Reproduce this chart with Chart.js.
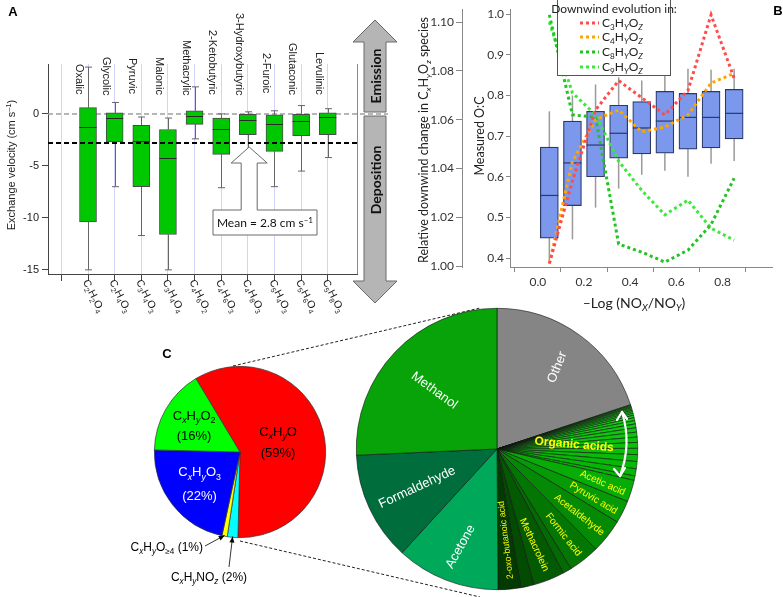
<!DOCTYPE html>
<html><head><meta charset="utf-8">
<script src="https://cdn.jsdelivr.net/npm/chart.js@4.4.1/dist/chart.umd.min.js"></script>
<style>
html,body{margin:0;padding:0;background:#fff;}
#wrap{position:relative;width:783px;height:597px;overflow:hidden;background:#fff;}
canvas{position:absolute;}
</style></head><body>
<div id="wrap">
<canvas id="cBig" style="left:220px;top:300px" width="563" height="297"></canvas>
<canvas id="cSmall" style="left:100px;top:332px" width="280" height="265"></canvas>
<canvas id="cA" style="left:0px;top:0px" width="400" height="320"></canvas>
<canvas id="cB" style="left:400px;top:0px" width="383" height="320"></canvas>
</div>
<script>
// ================= DATA =================
// Panel A : exchange velocity (cm s-1) of organic acids
const acidNames = ['Oxalic','Glycolic','Pyruvic','Malonic','Methacrylic','2-Ketobutyric','3-Hydroxybutyric','2-Furoic','Glutaconic','Levulinic'];
const acidFormulas = ['C2H2O4','C2H4O3','C3H4O3','C3H4O4','C4H6O2','C4H6O3','C4H8O3','C5H4O3','C5H6O4','C5H8O3'];
const vMin = [-15.0,-7.0,-11.7,-15.0,-2.4,-7.1,-4.0,-7.0,-5.5,-4.2];
const vQ1  = [-10.4,-2.7,-7.0,-11.6,-1.0,-3.9,-2.0,-3.6,-2.1,-2.0];
const vMed = [-1.3,-0.4,-2.6,-4.2,-0.2,-1.5,-0.6,-1.0,-0.7,-0.3];
const vQ3  = [0.6,0.1,-1.1,-1.5,0.3,-0.4,0.0,-0.1,0.0,0.1];
const vMax = [4.5,1.1,-0.3,-0.4,2.6,0.0,0.2,0.3,0.8,0.5];
const meanVelocity = -2.8;
const velocityTicks = [-15,-10,-5,0];

// Panel B : O:C boxes and relative downwind change
const noxBins = [0.05,0.15,0.25,0.35,0.45,0.55,0.65,0.75,0.85];
const ocMin = [0.395,0.446,0.524,0.571,0.605,0.615,0.600,0.632,0.639];
const ocQ1  = [0.449,0.529,0.600,0.646,0.656,0.658,0.668,0.671,0.693];
const ocMed = [0.554,0.634,0.678,0.707,0.720,0.737,0.746,0.746,0.756];
const ocQ3  = [0.673,0.737,0.761,0.776,0.785,0.810,0.805,0.810,0.815];
const ocMax = [0.761,0.800,0.827,0.845,0.837,0.854,0.866,0.863,0.866];
const relC3 = [1.001,1.035,1.064,1.076,1.069,1.062,1.072,1.103,1.077];
const relC4 = [1.001,1.043,1.060,1.064,1.055,1.057,1.062,1.075,1.079];
const relC8 = [1.103,1.062,1.061,1.009,1.0057,1.0016,1.0065,1.017,1.036];
const relC9 = [1.100,1.071,1.062,1.043,1.031,1.021,1.027,1.0155,1.0106];
const seriesNames = ['C_3H_YO_Z','C_4H_YO_Z','C_8H_YO_Z','C_9H_YO_Z'];
const noxTicks = [0,0.2,0.4,0.6,0.8];
const relTicks = [1.00,1.02,1.04,1.06,1.08,1.10];
const ocTicks = [0.4,0.5,0.6,0.7,0.8,0.9,1.0];

// Panel C : composition pies (percent)
const groupNames  = ['C_xH_yO','C_xH_yNO_z','C_xH_yO_{≥4}','C_xH_yO_3','C_xH_yO_2'];
const groupShares = [59,2,1,22,16];
const vocNames = ['Other','','','','','','','','','','','','','','','','','','','','','','',
  'Acetic acid','Pyruvic acid','Acetaldehyde','Formic acid','','Methacrolein','','2-oxo-butanoic acid','Acetone','Formaldehyde','Methanol'];
const vocShares = [19.9,0.08,0.08,0.11,0.11,0.14,0.14,0.17,0.19,0.22,0.28,0.33,0.39,0.44,0.5,0.56,0.61,0.67,0.72,0.78,0.83,0.83,0.5,
  2.5,2.6,3.9,3.6,1.0,3.6,1.5,2.6,11.9,12.5,25.7];

// ================= HELPERS =================
Chart.defaults.animation = false;
Chart.defaults.font.family = 'Liberation Sans';
function parseRich(s){
  const segs=[]; let i=0, buf='';
  while(i<s.length){
    const c=s[i];
    if(c==='_'||c==='^'){
      if(buf){segs.push({t:buf,mode:'n'});buf='';}
      const mode=c==='_'?'sub':'sup'; let t;
      if(s[i+1]==='{'){const j=s.indexOf('}',i+2); t=s.slice(i+2,j); i=j+1;}
      else {t=s[i+1]; i+=2;}
      segs.push({t,mode});
    } else {buf+=c;i++;}
  }
  if(buf) segs.push({t:buf,mode:'n'});
  return segs;
}
function drawRich(ctx,s,x,y,o){
  o=o||{}; const size=o.size||12, fam=o.family||'Liberation Sans', wt=o.weight||'normal';
  const segs=parseRich(s);
  const fontFor=sg=>{const sz=sg.mode==='n'?size:size*0.68; const it=(sg.mode!=='n'&&/^[A-Za-z]+$/.test(sg.t))?'italic ':''; return it+wt+' '+sz+'px "'+fam+'"';};
  ctx.save(); ctx.translate(x,y); ctx.rotate((o.rot||0)*Math.PI/180);
  let W=0; const ws=segs.map(sg=>{ctx.font=fontFor(sg); const w=ctx.measureText(sg.t).width; W+=w; return w;});
  let cx=o.align==='center'?-W/2:(o.align==='right'?-W:0);
  ctx.fillStyle=o.color||'#222'; ctx.textBaseline='alphabetic'; ctx.textAlign='left';
  const base=size*0.36;
  segs.forEach((sg,k)=>{ctx.font=fontFor(sg); const dy=sg.mode==='sub'?size*0.24:(sg.mode==='sup'?-size*0.38:0); ctx.fillText(sg.t,cx,base+dy); cx+=ws[k];});
  ctx.restore();
}
function poly(ctx,pts){ctx.beginPath(); pts.forEach((p,i)=>i?ctx.lineTo(p[0],p[1]):ctx.moveTo(p[0],p[1])); ctx.closePath();}
function seg(ctx,x1,y1,x2,y2){ctx.beginPath();ctx.moveTo(x1,y1);ctx.lineTo(x2,y2);ctx.stroke();}

// ================= PANEL A =================
const nameTop = [64,57,58,57,40,30,13,53,43,52];
const plugA = {
  id:'plugA',
  beforeDatasetsDraw(chart){
    const {ctx, chartArea:ca, scales:{x,y}} = chart;
    ctx.save();
    ctx.fillStyle='#b5b5b5'; ctx.strokeStyle='#6a6a6a'; ctx.lineWidth=1;
    poly(ctx,[[375,20],[397,42],[386,42],[386,112],[364,112],[364,42],[353,42]]); ctx.fill(); ctx.stroke();
    poly(ctx,[[364,116],[386,116],[386,281],[397,281],[375,303],[353,281],[364,281]]); ctx.fill(); ctx.stroke();
    drawRich(ctx,'Emission',376,76,{size:14,weight:'bold',family:'Lato',align:'center',rot:-90,color:'#111'});
    drawRich(ctx,'Deposition',376,180,{size:14,weight:'bold',family:'Lato',align:'center',rot:-90,color:'#111'});
    const y0=y.getPixelForValue(0);
    ctx.setLineDash([5,3]); ctx.strokeStyle='#a0a0a0'; ctx.lineWidth=1.5;
    seg(ctx,ca.left,y0,ca.right+31,y0);
    ctx.setLineDash([]);
    ctx.strokeStyle='#666'; ctx.lineWidth=1;
    acidNames.forEach((n,i)=>{
      const cx=Math.round(x.getPixelForValue(i))+0.5;
      const pMax=y.getPixelForValue(vMax[i]), pQ3=y.getPixelForValue(vQ3[i]);
      const pQ1=y.getPixelForValue(vQ1[i]), pMin=y.getPixelForValue(vMin[i]);
      seg(ctx,cx,pMax,cx,pQ3); seg(ctx,cx,pQ1,cx,pMin);
      seg(ctx,cx-3.5,pMax,cx+3.5,pMax); seg(ctx,cx-3.5,pMin,cx+3.5,pMin);
    });
    ctx.restore();
  },
  afterDatasetsDraw(chart){
    const {ctx, chartArea:ca, scales:{x,y}} = chart;
    ctx.save();
    ctx.strokeStyle='#2a2a2a'; ctx.lineWidth=1;
    acidNames.forEach((n,i)=>{
      const cx=x.getPixelForValue(i), py=Math.round(y.getPixelForValue(vMed[i]))+0.5;
      seg(ctx,cx-8.5,py,cx+8.5,py);
    });
    const ym=y.getPixelForValue(meanVelocity);
    ctx.setLineDash([5,3]); ctx.strokeStyle='#000'; ctx.lineWidth=2;
    seg(ctx,ca.left,ym,ca.right,ym); ctx.setLineDash([]);
    ctx.strokeStyle='#8a8a8a'; ctx.lineWidth=1;
    seg(ctx,ca.right+0.5,ca.top,ca.right+0.5,ca.bottom);
    const ax=x.getPixelForValue(6.05);
    ctx.fillStyle='#fff'; ctx.strokeStyle='#6a6a6a'; ctx.lineWidth=1;
    poly(ctx,[[213,210],[ax-8,210],[ax-8,163],[ax-18,163],[ax,ym+4],[ax+18,163],[ax+8,163],[ax+8,210],[317,210],[317,235],[213,235]]);
    ctx.fill(); ctx.stroke();
    drawRich(ctx,'Mean = 2.8 cm s^{–1}',265,223,{size:12,family:'Lato',align:'center',color:'#111'});
    acidNames.forEach((n,i)=>{
      const cx=x.getPixelForValue(i);
      drawRich(ctx,n,cx-8,nameTop[i],{size:11,rot:90,color:'#222'});
      drawRich(ctx,acidFormulas[i].replace(/(\d)/g,'_$1'),cx-2,280,{size:10.5,rot:63,color:'#222'});
    });
    drawRich(ctx,'Exchange velocity (cm s^{–1})',11,165,{size:11,align:'center',rot:-90,color:'#222'});
    drawRich(ctx,'A',13,11,{size:13,weight:'bold',align:'center',color:'#000'});
    ctx.restore();
  }
};
new Chart(document.getElementById('cA'),{
  type:'bar',
  data:{datasets:[{
    data:acidNames.map((n,i)=>({x:i,y:[vQ1[i],vQ3[i]]})),
    backgroundColor:'#00c800', borderColor:'#4a4a4a', borderWidth:1, borderSkipped:false, barThickness:17
  }]},
  options:{
    responsive:false,
    layout:{padding:{left:0,top:64,right:43,bottom:0}},
    plugins:{legend:{display:false},tooltip:{enabled:false}},
    scales:{
      x:{type:'linear',min:-0.922,max:9.517,
        afterBuildTicks:s=>{s.ticks=acidNames.map((n,i)=>({value:i-0.5}));},
        ticks:{autoSkip:false,callback:()=>''},
        grid:{color:'#d4d4fb',tickColor:'#444',tickLength:7,drawOnChartArea:true},
        border:{color:'#444'},
        afterFit:s=>{s.height=46;}},
      y:{min:-15.4,max:4.8,
        afterBuildTicks:s=>{s.ticks=velocityTicks.map(v=>({value:v}));},
        ticks:{color:'#222',font:{size:11},padding:3},
        grid:{drawOnChartArea:false,tickLength:6,tickColor:'#444'},
        border:{color:'#444'},
        afterFit:s=>{s.width=48;}}
    }
  },
  plugins:[plugA]
});

// ================= PANEL B =================
const lineColors = ['#ff4b4b','#ffa500','#22c322','#3ce83c'];
const plugB = {
  id:'plugB',
  beforeDatasetsDraw(chart){
    const {ctx, scales:{x,oc}} = chart;
    ctx.save(); ctx.strokeStyle='#9a9a9a'; ctx.lineWidth=1.5;
    noxBins.forEach((v,i)=>{
      const cx=x.getPixelForValue(v);
      seg(ctx,cx,oc.getPixelForValue(ocMax[i]),cx,oc.getPixelForValue(ocQ3[i]));
      seg(ctx,cx,oc.getPixelForValue(ocQ1[i]),cx,oc.getPixelForValue(ocMin[i]));
    });
    ctx.restore();
  },
  afterDatasetDraw(chart,args){
    if(args.index!==0) return;
    const {ctx, scales:{x,oc}} = chart;
    ctx.save(); ctx.strokeStyle='#2b3868'; ctx.lineWidth=1.2;
    noxBins.forEach((v,i)=>{
      const cx=x.getPixelForValue(v), py=oc.getPixelForValue(ocMed[i]);
      seg(ctx,cx-9,py,cx+9,py);
    });
    ctx.restore();
  },
  afterDraw(chart){
    const {ctx} = chart;
    ctx.save(); ctx.translate(-400,0);
    ctx.fillStyle='#fff'; ctx.strokeStyle='#555'; ctx.lineWidth=1;
    ctx.fillRect(557.5,-0.5,113,76); ctx.strokeRect(557.5,-0.5,113,76);
    drawRich(ctx,'Downwind evolution in:',614,9,{size:12,family:'Lato',align:'center',color:'#222'});
    const rows=[23,37,52,67];
    seriesNames.forEach((s,k)=>{
      ctx.strokeStyle=lineColors[k]; ctx.lineWidth=3; ctx.setLineDash([3,3]);
      seg(ctx,580,rows[k],599,rows[k]); ctx.setLineDash([]);
      drawRich(ctx,s,602,rows[k],{size:12,family:'Lato',color:'#222'});
    });
    drawRich(ctx,'Relative downwind change in C_xH_yO_z species',423,140,{size:12.5,family:'Lato',align:'center',rot:-90,color:'#222'});
    drawRich(ctx,'Measured O:C',479,136,{size:12.5,family:'Lato',align:'center',rot:-90,color:'#222'});
    drawRich(ctx,'–Log (NO_X/NO_Y)',634,303,{size:14,family:'Lato',align:'center',color:'#222'});
    drawRich(ctx,'B',778,10,{size:13,weight:'bold',align:'center',color:'#000'});
    ctx.restore();
  }
};
const relSeries=[relC3,relC4,relC8,relC9];
new Chart(document.getElementById('cB'),{
  type:'bar',
  data:{datasets:[
    {type:'bar',data:noxBins.map((v,i)=>({x:v,y:[ocQ1[i],ocQ3[i]]})),yAxisID:'oc',
      backgroundColor:'#7b98ec',borderColor:'#2b3868',borderWidth:1.2,borderSkipped:false,barThickness:18,order:3},
    ...relSeries.map((arr,k)=>({type:'line',data:noxBins.map((v,i)=>({x:v,y:arr[i]})),yAxisID:'rel',
      borderColor:lineColors[k],borderWidth:3,borderDash:[3,3],pointRadius:0,tension:0,fill:false,order:1}))
  ]},
  options:{
    responsive:false,
    layout:{padding:{left:0,top:8,right:11,bottom:0}},
    plugins:{legend:{display:false},tooltip:{enabled:false}},
    scales:{
      x:{type:'linear',min:-0.0069,max:0.9004,
        afterBuildTicks:s=>{s.ticks=noxTicks.map(v=>({value:v}));},
        ticks:{color:'#333',font:{family:'Lato',size:12},padding:3,callback:v=>Number(v).toFixed(1)},
        grid:{drawOnChartArea:false,tickLength:5,tickColor:'#888'},
        border:{color:'#888'},
        afterFit:s=>{s.height=53;}},
      rel:{position:'left',weight:10,min:0.9996,max:1.1053,
        afterBuildTicks:s=>{s.ticks=relTicks.map(v=>({value:v}));},
        ticks:{color:'#333',font:{family:'Lato',size:12},padding:2,callback:v=>Number(v).toFixed(2)},
        grid:{drawOnChartArea:false,tickLength:6,tickColor:'#888'},
        border:{color:'#888'},
        afterFit:s=>{s.width=62;}},
      oc:{position:'left',weight:0,min:0.378,max:1.0122,
        afterBuildTicks:s=>{s.ticks=ocTicks.map(v=>({value:v}));},
        ticks:{color:'#333',font:{family:'Lato',size:12},padding:2,callback:v=>Number(v).toFixed(1)},
        grid:{drawOnChartArea:false,tickLength:4,tickColor:'#888'},
        border:{color:'#888'},
        afterFit:s=>{s.width=48;}}
    }
  },
  plugins:[plugB]
});

// ================= PANEL C : small pie =================
const smallColors=['#ff0000','#00ffff','#ffff00','#0000ff','#00ff00'];
const plugSmall={
  id:'plugSmall',
  afterDraw(chart){
    const ctx=chart.ctx; const arcs=chart.getDatasetMeta(0).data;
    const pt=(i,frac)=>{const a=arcs[i]; const m=(a.startAngle+a.endAngle)/2; return [a.x+Math.cos(m)*a.outerRadius*frac,a.y+Math.sin(m)*a.outerRadius*frac];};
    ctx.save();
    const inner=[[0,0.46,10.5,'#000'],[4,0.62,10,'#000'],[3,0.6,12,'#fff']];
    inner.forEach(([i,f,d,col])=>{
      const p=pt(i,f);
      drawRich(ctx,groupNames[i],p[0],p[1]-d,{size:13,align:'center',color:col});
      drawRich(ctx,'('+groupShares[i]+'%)',p[0],p[1]+d,{size:13,align:'center',color:col});
    });
    ctx.translate(-100,-332);
    drawRich(ctx,groupNames[2]+' ('+groupShares[2]+'%)',203,547,{size:12,align:'right',color:'#000'});
    drawRich(ctx,groupNames[1]+' ('+groupShares[1]+'%)',209,577,{size:12,align:'center',color:'#000'});
    ctx.restore();
    const arrow=(x1,y1,p)=>{
      ctx.save(); ctx.strokeStyle='#000'; ctx.fillStyle='#000'; ctx.lineWidth=0.8;
      seg(ctx,x1,y1,p[0],p[1]);
      const ang=Math.atan2(p[1]-y1,p[0]-x1);
      poly(ctx,[[p[0],p[1]],[p[0]-6*Math.cos(ang)+2.5*Math.sin(ang),p[1]-6*Math.sin(ang)-2.5*Math.cos(ang)],[p[0]-6*Math.cos(ang)-2.5*Math.sin(ang),p[1]-6*Math.sin(ang)+2.5*Math.cos(ang)]]);
      ctx.fill(); ctx.restore();
    };
    arrow(205-100,546-332,pt(2,0.99));
    arrow(229-100,567-332,pt(1,0.99));
    ctx.save(); drawRich(ctx,'C',167-100,353-332,{size:13,weight:'bold',align:'center',color:'#000'}); ctx.restore();
  }
};
new Chart(document.getElementById('cSmall'),{
  type:'pie',
  data:{labels:groupNames,datasets:[{data:groupShares,backgroundColor:smallColors,borderColor:'#333',borderWidth:0.7}]},
  options:{responsive:false,rotation:-31,
    layout:{padding:{left:54,right:54,top:34,bottom:59}},
    plugins:{legend:{display:false},tooltip:{enabled:false}}},
  plugins:[plugSmall]
});

// ================= PANEL C : big pie =================
function vocColor(i){
  const n=vocNames[i];
  const fixed={'Other':'#858585','Acetic acid':'#07ac07','Pyruvic acid':'#069a06','Acetaldehyde':'#058a05','Formic acid':'#047604',
    'Methacrolein':'#035a03','2-oxo-butanoic acid':'#023a02','Acetone':'#00a85a','Formaldehyde':'#006e3c','Methanol':'#08a308'};
  if(fixed[n]) return fixed[n];
  if(i===27) return '#046a04';
  if(i===29) return '#034a03';
  const t=(i-1)/21; const g=Math.round(225-t*45); const r=Math.round(30-t*25);
  return 'rgb('+r+','+g+','+r+')';
}
const bigLabelStyle={
  'Other':{f:0.72,rot:-68,size:13,color:'#fff'},
  'Methanol':{f:0.61,rot:36,size:13,color:'#fff'},
  'Formaldehyde':{f:0.63,rot:-25,size:13,color:'#fff'},
  'Acetone':{f:0.74,rot:-61,size:13,color:'#fff'},
  'Acetic acid':{f:0.79,rot:24,size:10,color:'#ffff00'},
  'Pyruvic acid':{f:0.77,rot:31,size:10,color:'#ffff00'},
  'Acetaldehyde':{f:0.75,rot:38,size:10,color:'#ffff00'},
  'Formic acid':{f:0.77,rot:52,size:10,color:'#ffff00'},
  'Methacrolein':{f:0.73,rot:65,size:10,color:'#ffff00'},
  '2-oxo-butanoic acid':{f:0.65,rot:-97,size:9,color:'#ffff00'}
};
const plugBig={
  id:'plugBig',
  beforeDraw(chart){
    const ctx=chart.ctx; ctx.save(); ctx.translate(-220,-300);
    ctx.setLineDash([3,2]); ctx.strokeStyle='#222'; ctx.lineWidth=1;
    seg(ctx,233,366,480,308); seg(ctx,240,541,480,597);
    ctx.restore();
  },
  afterDraw(chart){
    const ctx=chart.ctx; const arcs=chart.getDatasetMeta(0).data;
    ctx.save();
    arcs.forEach((a,i)=>{
      const st=bigLabelStyle[vocNames[i]]; if(!st) return;
      const m=(a.startAngle+a.endAngle)/2;
      drawRich(ctx,vocNames[i],a.x+Math.cos(m)*a.outerRadius*st.f,a.y+Math.sin(m)*a.outerRadius*st.f,{size:st.size,align:'center',rot:st.rot,color:st.color});
    });
    const a0=arcs[0];
    const oa=-4*Math.PI/180;
    drawRich(ctx,'Organic acids',a0.x+Math.cos(oa)*a0.outerRadius*0.55,a0.y+Math.sin(oa)*a0.outerRadius*0.55,{size:12,weight:'bold',align:'center',rot:5,color:'#ffff00'});
    ctx.translate(-220,-300);
    ctx.strokeStyle='#fff'; ctx.lineWidth=2.2; ctx.lineCap='round';
    ctx.beginPath(); ctx.moveTo(622,412); ctx.quadraticCurveTo(632,444,620,476); ctx.stroke();
    seg(ctx,622,412,617,420); seg(ctx,622,412,627,419);
    seg(ctx,620,476,614,469); seg(ctx,620,476,625,468);
    ctx.restore();
  }
};
new Chart(document.getElementById('cBig'),{
  type:'pie',
  data:{labels:vocNames,datasets:[{data:vocShares,backgroundColor:vocNames.map((n,i)=>vocColor(i)),borderColor:'#111',borderWidth:0.6}]},
  options:{responsive:false,rotation:0,
    layout:{padding:{left:136,right:145,top:8,bottom:7}},
    plugins:{legend:{display:false},tooltip:{enabled:false}}},
  plugins:[plugBig]
});
</script>
</body></html>
